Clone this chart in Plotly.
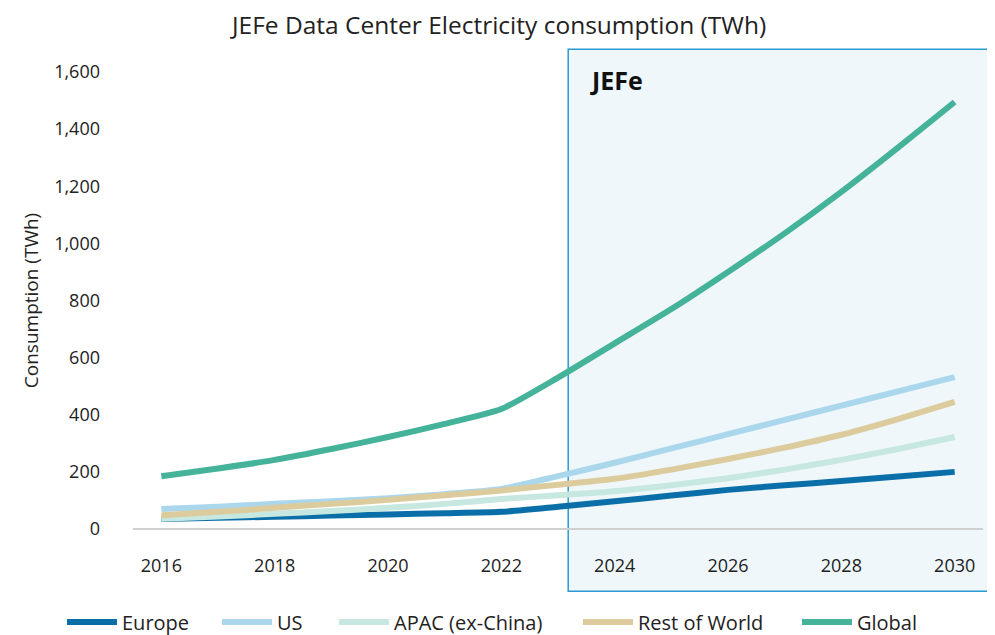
import plotly.graph_objects as go

years = list(range(2016, 2031))
europe = [35, 39, 43, 47, 51, 55, 60, 78, 97, 117, 137, 153, 168, 184, 200]
us = [70, 78, 88, 97, 108, 122, 140, 185, 232, 282, 332, 382, 432, 482, 532]
apac = [36, 44, 53, 63, 74, 88, 105, 118, 132, 153, 178, 208, 242, 280, 322]
row = [48, 60, 74, 88, 102, 118, 135, 155, 176, 208, 245, 285, 330, 385, 445]
glob = [185, 212, 242, 280, 322, 368, 420, 530, 650, 770, 900, 1035, 1180, 1335, 1495]

series = [
    ("Europe", europe, "#0A6FA8"),
    ("US", us, "#ABD7EC"),
    ("APAC (ex-China)", apac, "#C6E8E0"),
    ("Rest of World", row, "#DCCB9C"),
    ("Global", glob, "#44B39A"),
]
legend_x_px = [54, 209, 326, 570, 789]

FONT = "Open Sans"
W, H = 995, 635

fig = go.Figure()
for i, (name, vals, col) in enumerate(series):
    lg = "legend" if i == 0 else f"legend{i+1}"
    fig.add_trace(go.Scatter(
        x=years, y=vals, name=name, mode="lines", legend=lg,
        line=dict(color=col, width=6, shape="spline", smoothing=0.6),
    ))

fig.add_shape(type="rect", xref="paper", yref="paper",
              x0=0.512, x1=1.012, y0=-0.136, y1=1.050,
              fillcolor="#EFF7FB", line=dict(color="#2B9AD0", width=1.5),
              layer="below")
fig.add_annotation(text="<b>JEFe</b>", xref="paper", yref="paper",
                   x=0.535, y=0.983, xanchor="left", yanchor="middle",
                   showarrow=False, font=dict(family=FONT, size=25, color="#111111"))
# chart title
fig.add_annotation(text="JEFe Data Center Electricity consumption (TWh)",
                   xref="paper", yref="paper", x=0.4294, y=1.105,
                   xanchor="center", yanchor="middle", showarrow=False,
                   font=dict(family=FONT, size=24.5, color="#222222"))

legends = {}
for i, xp in enumerate(legend_x_px):
    key = "legend" if i == 0 else f"legend{i+1}"
    legends[key] = dict(orientation="h", xref="container", yref="container",
                        x=xp / W, xanchor="left", y=(H - 614) / H, yanchor="middle",
                        font=dict(size=20), itemwidth=50,
                        bgcolor="rgba(0,0,0,0)")

fig.update_layout(
    width=W, height=H,
    margin=dict(l=125, r=20, t=64, b=114, autoexpand=False),
    paper_bgcolor="white", plot_bgcolor="rgba(0,0,0,0)",
    font=dict(family=FONT, size=18, color="#222222"),
    xaxis=dict(range=[2015.5, 2030.5], tickvals=list(range(2016, 2031, 2)),
               showgrid=False, zeroline=False, showline=False, automargin=False,
               ticks="", tickfont=dict(size=18), ticklabelstandoff=24),
    yaxis=dict(range=[0, 1600], tickvals=list(range(0, 1601, 200)),
               tickformat=",", showgrid=False, zeroline=True, automargin=False,
               zerolinecolor="#D0D0D0", zerolinewidth=1.5,
               showline=False, ticks="", tickfont=dict(size=18),
               ticklabelstandoff=32,
               title=dict(text="Consumption (TWh)", font=dict(size=19), standoff=10)),
    showlegend=True,
    **legends,
)

fig.write_html("out.html")
